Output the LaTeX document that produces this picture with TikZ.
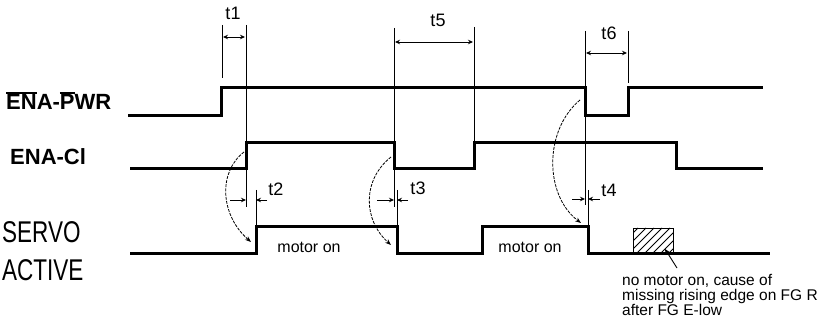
\documentclass[tikz,border=0pt]{standalone}
\usepackage{fontspec}
\setmainfont{Liberation Sans}
\newfontfamily\labfont{Liberation Sans}[BoldFont={Liberation Sans Bold}]
\newfontfamily\narrowfont[FakeStretch=0.75]{Liberation Sans}
\usetikzlibrary{arrows.meta}
\newcommand\obar[1]{\setbox0\hbox{#1}\rlap{\raisebox{\dimexpr\ht0+1.2pt\relax}{\rule{\wd0}{1.2pt}}}\box0}
\tikzset{
  sig/.style={line width=3pt, line join=miter},
  guide/.style={line width=0.9pt},
  dimarr/.style={line width=0.9pt, {Stealth[length=5pt,width=4.5pt]}-{Stealth[length=5pt,width=4.5pt]}},
  tiparr/.style={line width=0.9pt, -{Stealth[length=5pt,width=4.5pt]}},
  curv/.style={line width=0.8pt, dash pattern=on 3pt off 1.2pt, -{Stealth[length=6pt,width=4.5pt]}},
  tlab/.style={font=\fontsize{18}{18}\selectfont, inner sep=0pt},
  siglab/.style={font=\labfont\bfseries\fontsize{22}{22}\selectfont, inner sep=0pt, anchor=base west},
  servolab/.style={font=\narrowfont\fontsize{30}{30}\selectfont, inner sep=0pt, anchor=base west},
  small/.style={font=\fontsize{16}{16}\selectfont, inner sep=0pt}
}
\begin{document}
\begin{tikzpicture}[x=1pt,y=-1pt]
\useasboundingbox (0,0) rectangle (823,326);
% labels
\node[siglab] (lpwr) at (6,110) {\obar{E}\obar{N}A-\obar{P}WR};
\node[siglab] (lci) at (10,165) {ENA-Cl};
\node[servolab] (lservo) at (2,243) {SERVO};
\node[servolab] (lactive) at (2,280) {ACTIVE};
% signals
\draw[sig] (128,116) -- (221,116) -- (221,88) -- (585,88) -- (585,116) -- (628,116) -- (628,88) -- (763,88);
\draw[sig] (130,169) -- (246,169) -- (246,143) -- (394,143) -- (394,169) -- (474,169) -- (474,143) -- (676,143) -- (676,169) -- (763,169);
\draw[sig] (130,254) -- (256,254) -- (256,227) -- (397,227) -- (397,254) -- (482,254) -- (482,227) -- (588,227) -- (588,254) -- (770,254);
% guide lines
\draw[guide] (222,25) -- (222,78);
\draw[guide] (246,25) -- (246,207);
\draw[guide] (394,28) -- (394,207);
\draw[guide] (474,27) -- (474,143);
\draw[guide] (585,31) -- (585,205);
\draw[guide] (628,31) -- (628,83);
\draw[guide] (256,190) -- (256,227);
\draw[guide] (397,190) -- (397,227);
\draw[guide] (588,190) -- (588,227);
% dimension arrows
\draw[dimarr] (223,37) -- (245,37);
\draw[dimarr] (395,42) -- (473,42);
\draw[dimarr] (586,53) -- (627,53);
\draw[tiparr] (230,200) -- (246,200);
\draw[tiparr] (267,200) -- (256,200);
\draw[tiparr] (377,200) -- (394,200);
\draw[tiparr] (408,200) -- (397,200);
\draw[tiparr] (572,199) -- (585,199);
\draw[tiparr] (600,199) -- (588,199);
% t labels
\node[tlab] (t1) at (233,13) {t1};
\node[tlab] (t5) at (438,20) {t5};
\node[tlab] (t6) at (609,33) {t6};
\node[tlab] (t2) at (276,189) {t2};
\node[tlab] (t3) at (418,188) {t3};
\node[tlab] (t4) at (609,190) {t4};
% curved arrows
\draw[curv] (244,152) .. controls (218,172) and (220,215) .. (251,242);
\draw[curv] (391,157) .. controls (362,180) and (363,220) .. (391,245);
\draw[curv] (580,100) .. controls (544,130) and (544,195) .. (581,223);
% motor on
\node[small] (m1) at (309,247) {motor on};
\node[small] (m2) at (530,247) {motor on};
% hatched box
\begin{scope}
\clip (633,228) rectangle (673,254);
\foreach \x in {612,620,...,676} \draw[line width=0.8pt] (\x,254) -- (\x+26,228);
\end{scope}
\draw[line width=0.9pt] (633,228) rectangle (673,254);
\coordinate (boxpt) at (665,249);
\coordinate (leadend) at (677,268);
\draw[tiparr] (leadend) -- (boxpt);
\node[inner sep=0pt, anchor=north west, align=left, font=\fontsize{15.5}{15}\selectfont] (note) at (622,274)
 {no motor on, cause of\\missing rising edge on FG R\\after FG E-low};
\end{tikzpicture}
\end{document}
